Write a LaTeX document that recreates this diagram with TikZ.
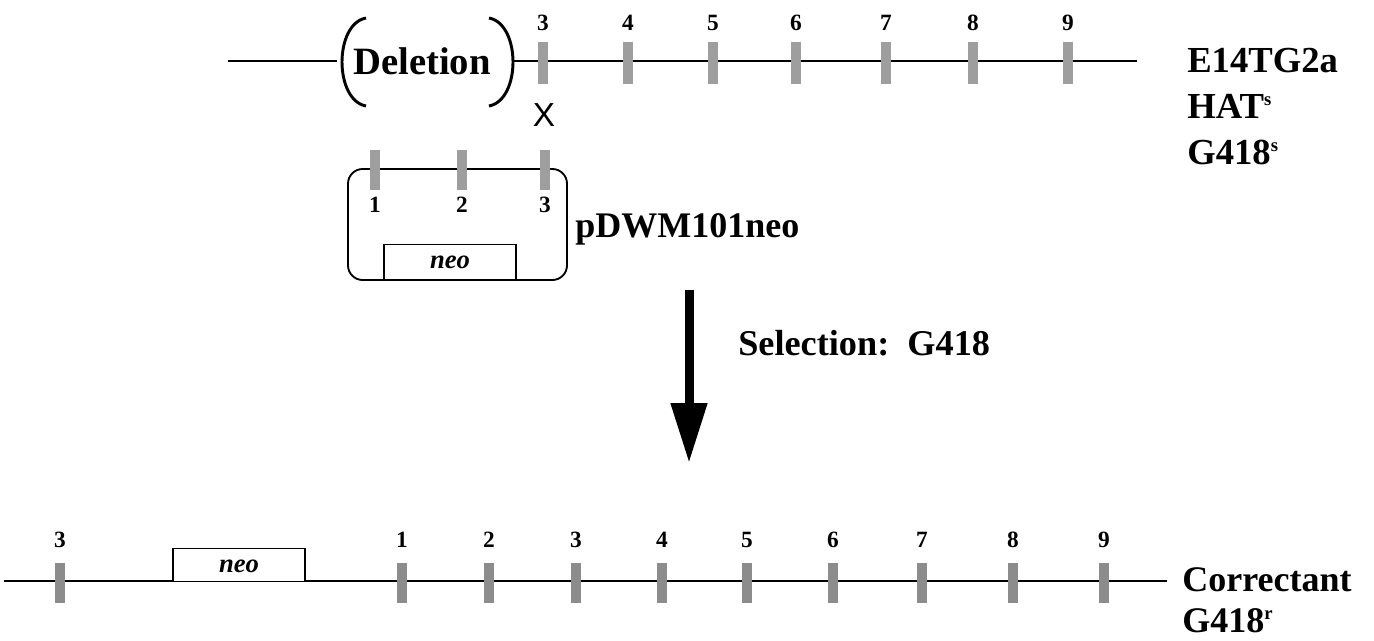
\documentclass[tikz,border=0pt]{standalone}
\usepackage{fontspec}
\setmainfont{Liberation Serif}
\newfontfamily\xsans{Liberation Sans}
\usetikzlibrary{arrows.meta}
\definecolor{exonfill}{RGB}{158,158,158}
\definecolor{exondark}{RGB}{140,140,140}
\newcommand{\supmark}[1]{\textsuperscript{\fontsize{14}{14}\selectfont #1}}
\begin{document}
\begin{tikzpicture}[x=0.75pt,y=-0.75pt,
  dna/.style={line width=1.5pt},
  exon/.style={draw=none, fill=exonfill, minimum width=7.5pt, minimum height=31pt, inner sep=0pt},
  exonlow/.style={exon, fill=exondark, minimum width=8pt, minimum height=30pt},
  num/.style={font=\fontsize{17.5}{19}\selectfont\bfseries, anchor=base, inner sep=0pt},
  biglabel/.style={font=\fontsize{27.5}{30}\selectfont\bfseries, anchor=base west, inner sep=0pt},
  neolabel/.style={font=\fontsize{20}{22}\selectfont\bfseries\itshape, anchor=base, inner sep=0pt},
  genebox/.style={draw, line width=1.2pt, inner sep=0pt},
  paren/.style={line width=2.2pt},
  selarrow/.style={line width=6.75pt, -{Triangle[width=26pt,length=45pt]}}
]
\useasboundingbox (0,0) rectangle (1374,640);

% ---------- top chromosome (E14TG2a) ----------
\coordinate (topL) at (228,61);
\coordinate (parL) at (337,61);
\coordinate (parR) at (513,61);
\coordinate (topR) at (1137,61);
\draw[dna] (topL) -- (parL);
\draw[dna] (parR) -- (topR);

% deletion brackets
\draw[paren] (366,18) .. controls (334,24) and (334,100) .. (366,106);
\draw[paren] (489,18) .. controls (521,24) and (521,100) .. (489,106);
\node[font=\fontsize{29}{31}\selectfont\bfseries, anchor=base, inner sep=0pt] (del) at (422,74) {Deletion};

% exons 3..9 on the top line
\foreach \n/\x in {3/543,4/628,5/713,6/796,7/886,8/973,9/1068}{
  \node[exon] (t\n) at (\x,63) {};
  \node[num] (tl\n) at (\x,30) {\n};
}

% crossover mark
\node[font=\xsans\fontsize{25}{27}\selectfont, anchor=base, inner sep=0pt] (cross) at (544,126) {X};

% strain labels
\node[biglabel] (strain) at (1187,72) {E14TG2a};
\node[biglabel] (hat) at (1187,118) {HAT\supmark{s}};
\node[biglabel] (g418s) at (1187,164) {G418\supmark{s}};

% ---------- targeting plasmid ----------
\draw[line width=1.4pt, rounded corners=11pt] (348,169) rectangle (567,280);
\node[genebox, minimum width=99pt, minimum height=26pt] (pneo) at (450,262) {};
\node[neolabel] at (450,268) {neo};
\foreach \n/\x in {1/375,2/462,3/545}{
  \node[exon, minimum height=30pt] (p\n) at (\x,170) {};
  \node[num] (pl\n) at (\x,212) {\n};
}
\node[font=\fontsize{27}{29}\selectfont\bfseries, anchor=base west, inner sep=0pt] (plasmid) at (575,237) {pDWM101neo};

% ---------- selection step ----------
\coordinate (arrtop) at (689,290);
\coordinate (arrtip) at (689,463);
\draw[selarrow] (arrtop) -- (arrtip);
\node[font=\fontsize{27.2}{29}\selectfont\bfseries, anchor=base west, inner sep=0pt] (sel) at (738,355) {Selection:\ \ G418};

% ---------- corrected locus ----------
\coordinate (botL) at (4,581);
\coordinate (botR) at (1167,581);
\draw[dna] (botL) -- (botR);
\node[genebox, fill=white, minimum width=99pt, minimum height=25pt] (bneo) at (239,565) {};
\node[neolabel] at (239,572) {neo};
\node[exonlow] (b0) at (60,583) {};
\node[num] at (60,547) {3};
\foreach \n/\x in {1/402,2/489,3/576,4/662,5/747,6/833,7/922,8/1013,9/1104}{
  \node[exonlow] (b\n) at (\x,583) {};
  \node[num] (bl\n) at (\x,547) {\n};
}
\node[biglabel, font=\fontsize{27}{29}\selectfont\bfseries] (corr) at (1182,591) {Correctant};
\node[biglabel, font=\fontsize{27}{29}\selectfont\bfseries] (g418r) at (1182,632) {G418\supmark{r}};
\end{tikzpicture}
\end{document}
